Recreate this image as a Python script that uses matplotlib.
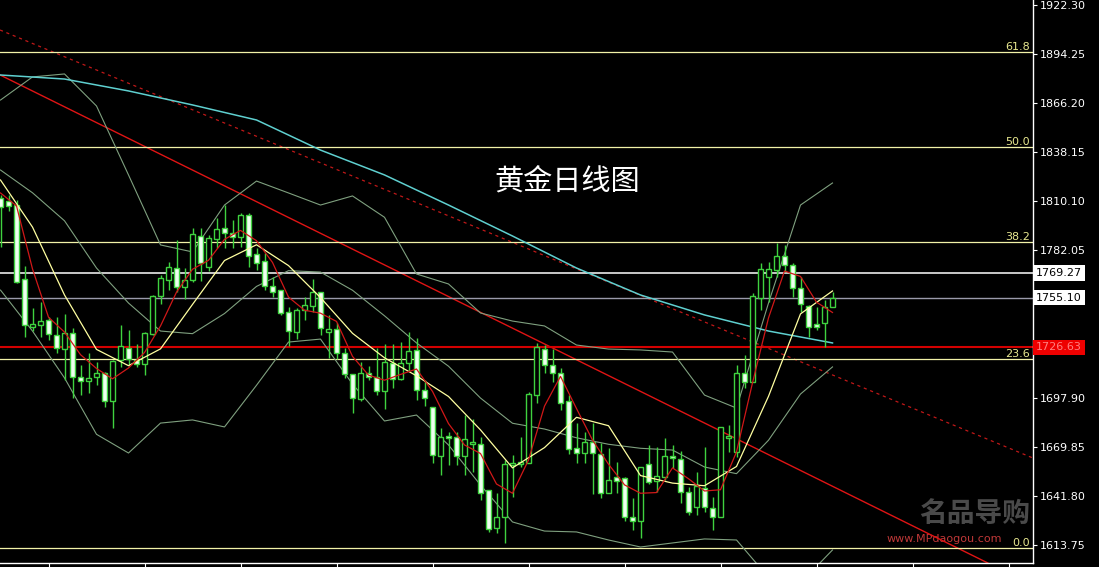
import numpy as np
import matplotlib.pyplot as plt

# daily gold candles, oldest first
opens = [1812.0, 1810.3, 1808.0, 1765.7, 1738.3, 1739.4, 1742.3, 1733.7, 1725.7, 1734.9,
         1709.7, 1707.4, 1709.7, 1712.0, 1696.0, 1719.4, 1726.3, 1719.4, 1717.2, 1734.3,
         1756.0, 1765.2, 1772.0, 1761.2, 1765.2, 1790.3, 1772.6, 1788.6, 1794.9, 1792.0,
         1789.7, 1802.3, 1780.0, 1776.0, 1761.7, 1759.4, 1746.9, 1735.4, 1748.0, 1750.3,
         1758.3, 1735.4, 1737.2, 1723.4, 1711.4, 1697.2, 1712.0, 1709.7, 1701.7, 1717.7,
         1708.6, 1717.7, 1725.2, 1702.3, 1692.6, 1664.6, 1676.0, 1675.4, 1664.6, 1671.4,
         1671.4, 1645.2, 1623.4, 1629.7, 1659.4, 1660.0, 1660.6, 1699.4, 1725.7, 1716.6,
         1712.0, 1696.0, 1669.2, 1666.3, 1672.6, 1665.7, 1643.4, 1652.6, 1652.0, 1629.7,
         1627.4, 1660.0, 1650.3, 1652.6, 1664.6, 1662.9, 1644.0, 1635.4, 1646.3, 1634.9,
         1629.7, 1674.9, 1666.9, 1712.0, 1706.9, 1754.9, 1766.9, 1770.9, 1778.9, 1773.7,
         1760.6, 1750.3, 1740.0, 1740.6, 1749.7]
highs = [1813.7, 1813.7, 1810.9, 1773.2, 1749.2, 1752.6, 1744.0, 1744.0, 1745.7, 1737.7,
         1716.6, 1723.4, 1718.3, 1712.6, 1719.4, 1739.4, 1736.6, 1728.6, 1735.4, 1756.6,
         1768.0, 1775.4, 1788.0, 1772.0, 1794.9, 1794.9, 1790.9, 1800.6, 1808.0, 1799.4,
         1803.4, 1803.4, 1783.4, 1780.6, 1766.9, 1759.4, 1749.7, 1749.2, 1755.4, 1765.7,
         1758.3, 1745.2, 1740.6, 1726.3, 1711.4, 1718.3, 1716.0, 1726.3, 1728.6, 1728.6,
         1729.7, 1735.4, 1732.0, 1708.0, 1692.6, 1680.6, 1678.3, 1678.3, 1688.0, 1685.7,
         1675.4, 1645.2, 1643.4, 1662.3, 1665.2, 1675.4, 1701.2, 1729.2, 1728.0, 1725.7,
         1714.9, 1699.4, 1683.4, 1678.3, 1683.4, 1672.0, 1669.2, 1661.2, 1652.6, 1640.6,
         1658.3, 1670.9, 1669.7, 1674.9, 1670.9, 1667.4, 1646.9, 1655.4, 1669.7, 1641.2,
         1681.2, 1682.3, 1716.6, 1722.3, 1757.7, 1774.9, 1775.4, 1786.3, 1785.2, 1774.9,
         1766.9, 1750.9, 1749.7, 1753.7, 1758.3]
lows = [1784.0, 1804.6, 1763.4, 1732.6, 1736.0, 1732.6, 1730.9, 1723.4, 1708.0, 1697.7,
        1699.4, 1700.6, 1705.2, 1692.6, 1680.6, 1715.4, 1716.6, 1715.4, 1710.9, 1733.7,
        1751.4, 1759.4, 1758.3, 1754.3, 1764.0, 1764.6, 1770.3, 1783.4, 1783.4, 1783.4,
        1784.0, 1772.6, 1770.9, 1759.4, 1755.4, 1745.2, 1727.4, 1731.4, 1742.3, 1746.9,
        1733.7, 1720.6, 1720.0, 1709.2, 1689.2, 1696.0, 1708.0, 1699.4, 1691.4, 1703.4,
        1708.0, 1713.2, 1696.6, 1693.2, 1660.6, 1653.7, 1659.4, 1659.4, 1653.7, 1655.4,
        1639.4, 1621.2, 1620.6, 1614.9, 1641.2, 1658.3, 1660.6, 1694.9, 1712.0, 1706.9,
        1690.9, 1665.7, 1660.6, 1660.6, 1642.9, 1640.6, 1643.4, 1643.4, 1627.4, 1622.3,
        1617.7, 1648.6, 1644.0, 1650.9, 1657.7, 1637.7, 1630.9, 1630.9, 1632.6, 1622.3,
        1629.7, 1666.9, 1664.0, 1703.4, 1706.9, 1748.0, 1752.6, 1766.9, 1769.7, 1755.4,
        1746.9, 1732.6, 1736.6, 1726.6, 1749.7]
closes = [1806.9, 1807.4, 1764.0, 1739.4, 1740.0, 1741.7, 1734.3, 1726.3, 1734.9, 1709.7,
          1707.4, 1709.2, 1712.0, 1696.0, 1718.9, 1727.4, 1720.0, 1717.2, 1734.9, 1756.0,
          1766.3, 1772.6, 1761.2, 1765.2, 1791.4, 1774.9, 1789.2, 1794.3, 1792.0, 1789.7,
          1802.3, 1778.9, 1774.9, 1761.7, 1758.3, 1746.3, 1736.0, 1748.0, 1750.9, 1758.3,
          1737.7, 1737.2, 1723.4, 1711.4, 1697.7, 1712.0, 1709.7, 1701.7, 1718.3, 1708.6,
          1717.7, 1724.6, 1702.3, 1697.7, 1665.2, 1675.4, 1674.9, 1664.6, 1674.3, 1672.6,
          1643.4, 1622.9, 1629.7, 1660.0, 1660.6, 1661.2, 1700.0, 1726.9, 1716.6, 1712.0,
          1694.9, 1668.6, 1666.3, 1672.6, 1666.3, 1643.4, 1650.9, 1650.3, 1629.7, 1627.4,
          1658.3, 1649.7, 1653.2, 1664.6, 1663.4, 1644.0, 1632.6, 1647.4, 1635.4, 1629.7,
          1681.2, 1676.0, 1712.0, 1706.9, 1756.0, 1771.4, 1771.4, 1778.9, 1773.7, 1760.6,
          1751.4, 1738.3, 1738.3, 1749.7, 1755.1]

# indicator lines (red = MA5, yellow = MA10, cyan = long MA)
ma5_idx = list(range(0, 105, 2))
ma5 = [1814.9, 1807.5, 1771.5, 1743.9, 1735.4, 1722.5, 1714.6, 1708.7, 1714.9, 1723.7,
       1738.9, 1758.2, 1771.3, 1776.4, 1788.4, 1793.5, 1787.6, 1775.2, 1755.4, 1747.9,
       1746.2, 1741.5, 1721.5, 1710.8, 1707.9, 1711.2, 1714.3, 1701.5, 1683.1, 1670.9,
       1666.0, 1648.6, 1643.3, 1662.3, 1693.1, 1710.1, 1691.7, 1673.7, 1659.9, 1648.1,
       1643.3, 1643.7, 1657.8, 1651.6, 1644.6, 1645.3, 1666.9, 1706.4, 1743.5, 1770.3,
       1767.2, 1752.5, 1746.6]
ma10_idx = list(range(0, 105, 4))
ma10 = [1822.3, 1795.4, 1756.6, 1725.5, 1716.2, 1725.8, 1751.2, 1776.3, 1785.3, 1773.4,
        1755.1, 1734.7, 1720.7, 1710.4, 1698.6, 1679.5, 1657.8, 1669.4, 1686.7, 1681.9,
        1653.4, 1649.1, 1647.6, 1658.6, 1698.7, 1745.8, 1758.9]
long_idx = list(range(0, 105, 8))
ma_long = [1882.3, 1880.0, 1873.2, 1865.2, 1856.6, 1839.4, 1825.2, 1808.0, 1790.3, 1772.0,
           1756.6, 1745.2, 1736.0, 1729.2]

# bollinger bands (20)
bb_idx = list(range(0, 105, 4))
bb_upper = [1868.0, 1881.2, 1882.9, 1864.6, 1825.2, 1785.2, 1781.2, 1808.0, 1821.7, 1814.9,
            1808.0, 1813.2, 1801.0, 1768.6, 1762.9, 1746.3, 1741.7, 1738.9, 1728.0, 1725.7,
            1725.2, 1724.0, 1699.4, 1692.0, 1752.0, 1808.0, 1820.6]
bb_mid = [1828.0, 1815.0, 1799.0, 1772.0, 1752.0, 1736.0, 1734.5, 1746.0, 1761.5, 1770.5,
          1769.7, 1759.3, 1744.7, 1729.2, 1715.9, 1697.7, 1683.3, 1680.0, 1675.0, 1671.3,
          1669.0, 1668.0, 1658.3, 1654.5, 1673.6, 1700.0, 1715.5]
bb_lower = [1759.4, 1736.0, 1709.2, 1677.0, 1666.3, 1683.4, 1685.2, 1681.2, 1705.0, 1729.7,
            1731.4, 1705.7, 1684.6, 1688.0, 1670.9, 1648.0, 1626.9, 1621.7, 1621.2, 1616.6,
            1612.6, 1614.9, 1617.2, 1616.6, 1595.2, 1592.0, 1610.9]

# fibonacci retracement
fib_labels = ['0.0', '23.6', '38.2', '50.0', '61.8']
fib_prices = [1612.0, 1720.0, 1786.9, 1841.2, 1895.4]

# marked prices on the right axis
mark_prices = [1769.27, 1755.10, 1726.63]

# trend lines, two points each (candle index, price)
trend_solid = [(0, 1882.2), (104, 1647.3)]
trend_dashed = [(0, 1907.9), (104, 1710.9)]

ytick_vals = [1613.75, 1641.80, 1669.85, 1697.90, 1782.05, 1810.10,
              1838.15, 1866.20, 1894.25, 1922.30]

green = '#3fd23f'

fig = plt.figure(figsize=(10.99, 5.67), dpi=100, facecolor='black')
ax = fig.add_axes([0, 4 / 567, 1033 / 1099, 563 / 567])
ax.patch.set_visible(False)

idx = np.arange(len(closes))
o = np.array(opens)
c = np.array(closes)
fills = ['black' if cc >= oo else '#effff0' for oo, cc in zip(o, c)]

# trend lines
ax.axline(trend_solid[0], trend_solid[1], color='#e01414', lw=1, zorder=1)
ax.axline(trend_dashed[0], trend_dashed[1], color='#c01818', lw=0.9,
          linestyle=(0, (2.5, 3)), zorder=1)

# horizontal levels
for p in fib_prices:
    ax.axhline(p, color='#f2f2a8', lw=0.9, zorder=1)
ax.axhline(mark_prices[0], color='white', lw=1.1, zorder=1)
ax.axhline(mark_prices[1], color='#9a9aaa', lw=1.0, zorder=1)
ax.axhline(mark_prices[2], color='#d40000', lw=1.5, zorder=1)

# bands and long MA
for band in (bb_upper, bb_mid, bb_lower):
    ax.plot(bb_idx, band, color='#7fa07f', lw=0.8, zorder=1.5)
ax.plot(long_idx, ma_long, color='#5fd0d0', lw=1.1, zorder=1.5)

# candles
ax.vlines(idx, lows, highs, color=green, lw=1, zorder=2)
ax.bar(idx, np.abs(c - o), bottom=np.minimum(o, c), width=0.62,
       color=fills, edgecolor=green, linewidth=1, zorder=3)

# short MAs
ax.plot(ma10_idx, ma10, color='#ffffa0', lw=0.9, zorder=4)
ax.plot(ma5_idx, ma5, color='#d01818', lw=0.9, zorder=4)

ax.set_xlim(-0.0625, 129.0625)
ax.set_ylim(1603.45, 1925.16)

for s in ['top', 'left']:
    ax.spines[s].set_visible(False)
for s in ['right', 'bottom']:
    ax.spines[s].set_color('white')
    ax.spines[s].set_linewidth(1)

ax.yaxis.tick_right()
ax.set_yticks(ytick_vals)
ax.set_yticklabels(['%.2f' % v for v in ytick_vals])
ax.tick_params(axis='y', colors='white', direction='out', length=3, width=0.8,
               labelsize=8, pad=2)
ax.set_xticks(range(6, 129, 12))
ax.set_xticklabels([])
ax.tick_params(axis='x', colors='white', direction='out', length=3, width=0.8)

ytr = ax.get_yaxis_transform()
for lab, p in zip(fib_labels, fib_prices):
    ax.text(1 - 3 / 1033, p, lab, transform=ytr, ha='right', va='bottom',
            color='#e8e890', fontsize=8, zorder=5)

box_styles = [('white', 'black'), ('white', 'black'), ('#ee0000', '#ff8080')]
for p, (fc, tc) in zip(mark_prices, box_styles):
    ax.text(1.003, p, '%.2f' % p, transform=ytr, ha='left', va='center',
            color=tc, fontsize=8, clip_on=False, zorder=6,
            bbox=dict(boxstyle='square,pad=0.25', facecolor=fc, edgecolor='none'))

ax.text(567 / 1033, 1 - 182 / 563, '黄金日线图', transform=ax.transAxes,
        ha='center', va='center', color='white', fontsize=21,
        family=['Noto Sans CJK SC', 'DejaVu Sans'])

# site watermark, behind the chart (kept clear of the axis labels)
fig.text(975 / 1099, 1 - 514 / 567, '名品导购', ha='center', va='center',
         color='#4a4a4a', fontsize=20, fontweight='bold',
         family=['Noto Sans CJK SC', 'DejaVu Sans'], zorder=-1)
fig.text(944 / 1099, 1 - 539 / 567, 'www.MPdaogou.com', ha='center', va='center',
         color='#c03838', fontsize=8, zorder=-1)

plt.savefig('out.png', dpi=100, facecolor='black')
